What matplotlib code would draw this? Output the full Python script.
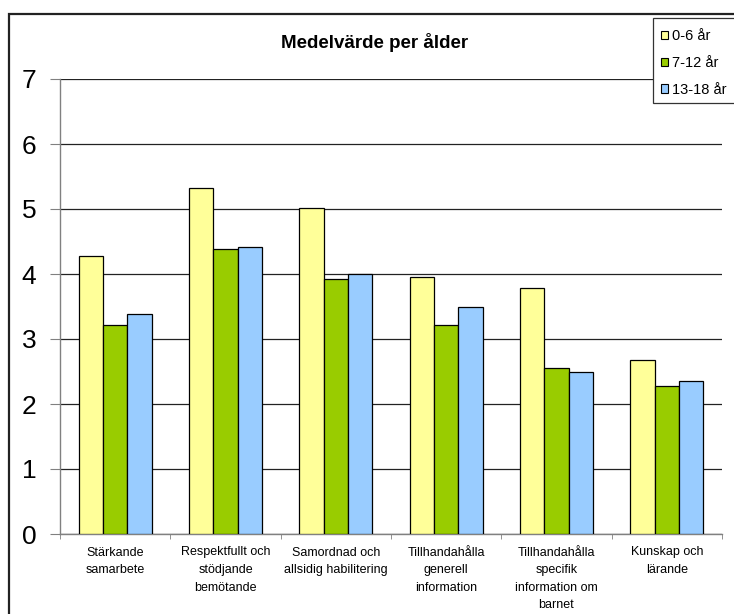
import matplotlib

matplotlib.use("Agg")
import matplotlib.pyplot as plt
import numpy as np
from matplotlib.patches import Rectangle

plt.rcParams["font.family"] = ["Liberation Sans", "DejaVu Sans"]

categories = [
    "Stärkande\nsamarbete",
    "Respektfullt och\nstödjande\nbemötande",
    "Samordnad och\nallsidig habilitering",
    "Tillhandahålla\ngenerell\ninformation",
    "Tillhandahålla\nspecifik\ninformation om\nbarnet",
    "Kunskap och\nlärande",
]
series_labels = ["0-6 år", "7-12 år", "13-18 år"]
age_0_6 = [4.27, 5.33, 5.02, 3.96, 3.79, 2.67]
age_7_12 = [3.22, 4.38, 3.93, 3.22, 2.56, 2.27]
age_13_18 = [3.38, 4.42, 4.00, 3.49, 2.49, 2.35]
colors = ["#FFFF99", "#99CC00", "#99CCFF"]

W, H = 734, 614
fig = plt.figure(figsize=(W / 100, H / 100), dpi=100)

# outer chart border, cut off at right and bottom as in the reference
fig.patches.append(Rectangle((9 / W, -0.05), 1.2, 1 - 14 / H + 0.05,
                             transform=fig.transFigure, fill=False,
                             edgecolor="#222222", linewidth=1.6))

ax = fig.add_axes([60 / W, 1 - 534 / H, 662 / W, 455 / H])

x = np.arange(len(categories))
width = 0.22
for i, (vals, label, col) in enumerate(zip([age_0_6, age_7_12, age_13_18], series_labels, colors)):
    ax.bar(x + (i - 1) * width, vals, width, color=col, edgecolor="black",
           linewidth=0.9, label=label, zorder=3)

ax.set_ylim(0, 7)
ax.set_xlim(-0.5, len(categories) - 0.5)
ax.set_yticks(range(8))
ax.tick_params(axis="y", labelsize=19, length=7, color="#808080", pad=10)
ax.yaxis.grid(True, color="#222222", linewidth=0.9, zorder=0)
ax.set_axisbelow(True)

ax.set_xticks(x)
ax.set_xticklabels(categories, fontsize=9, linespacing=1.62, va="top")
ax.tick_params(axis="x", length=0, pad=9)
ax.set_xticks(np.arange(len(categories) + 1) - 0.5, minor=True)
ax.tick_params(axis="x", which="minor", length=3.6, color="#808080", direction="out")

for side in ("top", "right"):
    ax.spines[side].set_visible(False)
for side in ("left", "bottom"):
    ax.spines[side].set_color("#808080")
    ax.spines[side].set_linewidth(1)

fig.text(375 / W, 1 - 43 / H, "Medelvärde per ålder",
         ha="center", va="center", fontsize=13.5, fontweight="bold")

# legend box runs past the right edge of the image
fig.patches.append(Rectangle((653 / W, 1 - 103 / H), 0.2, 85 / H,
                             transform=fig.transFigure, facecolor="white",
                             edgecolor="#333333", linewidth=0.9, zorder=5))
leg = fig.legend(loc="upper left", bbox_to_anchor=(661 / W, 1 - 29 / H),
                 fontsize=10.5, frameon=False,
                 handlelength=0.5, handleheight=0.5, handletextpad=0.25,
                 labelspacing=0.88, borderpad=0, borderaxespad=0)
leg.set_zorder(6)
for patch in leg.get_patches():
    patch.set_linewidth(0.8)

fig.savefig("out.png", dpi=100)
